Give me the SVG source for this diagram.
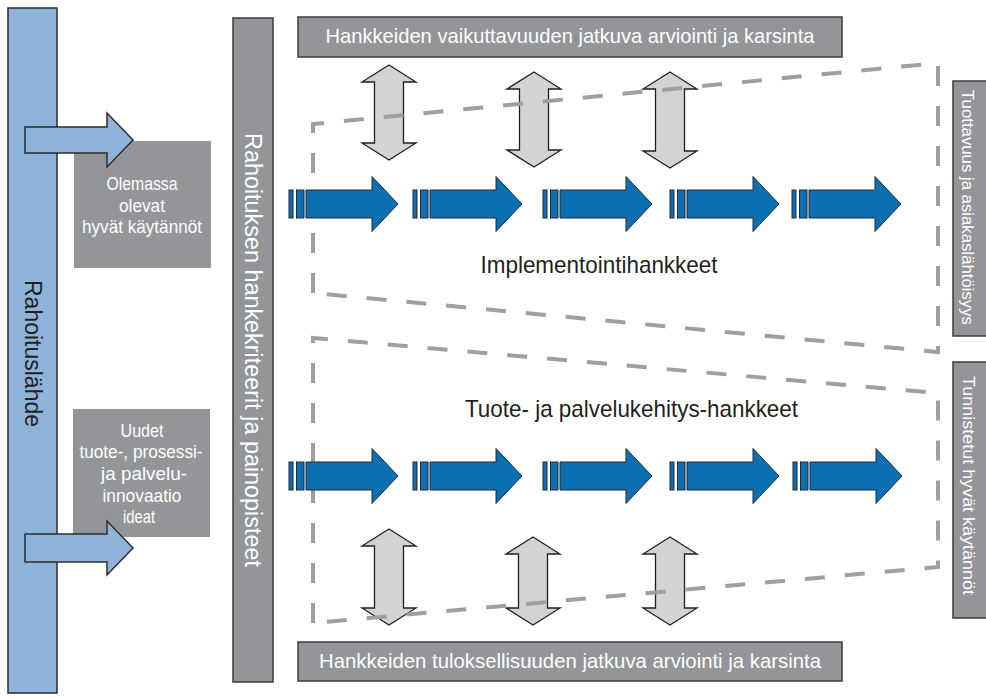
<svg xmlns="http://www.w3.org/2000/svg" width="986" height="697" viewBox="0 0 986 697">
  <style>
    .txt { font-family: "Liberation Sans Narrow", "Liberation Sans", Arial, sans-serif; }
    .wt { fill: #ffffff; }
    .bk { fill: #231f20; }
    .grey { fill: #939598; stroke: #3c3c3c; stroke-width: 1.5; }
    .lblue { fill: #8fb4dc; stroke: #2b2b2b; stroke-width: 1.5; }
    .blue { fill: #0b6fb1; stroke: #1e2a35; stroke-width: 1; }
    .dbl { fill: #d1d3d4; stroke: #231f20; stroke-width: 1.3; }
    .dash { fill: none; stroke: #9d9fa2; stroke-width: 4; stroke-dasharray: 20 20; }
  </style>
  <defs>
    <!-- blue step arrow: two thin bars then a block arrow, centred on y=0 -->
    <g id="step">
      <rect class="blue" x="0" y="-14" width="4" height="28"/>
      <rect class="blue" x="7.5" y="-14" width="7.5" height="28"/>
      <path class="blue" d="M17,-14 H83 V-27.5 L109,0 L83,27.5 V14 H17 Z"/>
    </g>
  </defs>

  <!-- funding source bar -->
  <g id="rahoituslahde">
    <rect class="lblue" x="8" y="8" width="49" height="685"/>
    <text class="txt bk" font-size="23" text-anchor="middle" textLength="147" lengthAdjust="spacingAndGlyphs" transform="translate(25,353.5) rotate(90)">Rahoituslähde</text>
  </g>

  <!-- input boxes -->
  <g id="olemassa">
    <rect fill="#939598" x="74" y="141" width="137" height="127"/>
    <g class="txt wt" font-size="19" text-anchor="middle">
      <text x="142" y="190" textLength="71" lengthAdjust="spacingAndGlyphs">Olemassa</text>
      <text x="142" y="212" textLength="46" lengthAdjust="spacingAndGlyphs">olevat</text>
      <text x="142" y="233" textLength="120" lengthAdjust="spacingAndGlyphs">hyvät käytännöt</text>
    </g>
  </g>
  <g id="uudet">
    <rect fill="#939598" x="73" y="409" width="137" height="128"/>
    <g class="txt wt" font-size="19" text-anchor="middle">
      <text x="142" y="437" textLength="43" lengthAdjust="spacingAndGlyphs">Uudet</text>
      <text x="141" y="458" textLength="123" lengthAdjust="spacingAndGlyphs">tuote-, prosessi-</text>
      <text x="144" y="480" textLength="86" lengthAdjust="spacingAndGlyphs">ja palvelu-</text>
      <text x="142" y="502" textLength="79" lengthAdjust="spacingAndGlyphs">innovaatio</text>
      <text x="139" y="523" textLength="32" lengthAdjust="spacingAndGlyphs">ideat</text>
    </g>
  </g>

  <!-- criteria bar -->
  <g id="kriteerit">
    <rect class="grey" x="233" y="18" width="40" height="664"/>
    <text class="txt wt" font-size="23" text-anchor="middle" textLength="434" lengthAdjust="spacingAndGlyphs" transform="translate(245,350) rotate(90)">Rahoituksen hankekriteerit ja painopisteet</text>
  </g>

  <!-- evaluation boxes -->
  <g id="vaikuttavuus">
    <rect class="grey" x="298" y="17" width="544" height="40"/>
    <text class="txt wt" x="570" y="43" font-size="21" text-anchor="middle" textLength="489" lengthAdjust="spacingAndGlyphs">Hankkeiden vaikuttavuuden jatkuva arviointi ja karsinta</text>
  </g>
  <g id="tuloksellisuus">
    <rect class="grey" x="298" y="642" width="544" height="39"/>
    <text class="txt wt" x="570" y="668" font-size="21" text-anchor="middle" textLength="502" lengthAdjust="spacingAndGlyphs">Hankkeiden tuloksellisuuden jatkuva arviointi ja karsinta</text>
  </g>

  <!-- outcome boxes on the right -->
  <g id="tuottavuus">
    <rect class="grey" x="953" y="81" width="40" height="255"/>
    <text class="txt wt" font-size="17" text-anchor="middle" textLength="235" lengthAdjust="spacingAndGlyphs" transform="translate(962,207.5) rotate(90)">Tuottavuus ja asiakaslähtöisyys</text>
  </g>
  <g id="tunnistetut">
    <rect class="grey" x="953" y="362" width="40" height="256"/>
    <text class="txt wt" font-size="17" text-anchor="middle" textLength="219" lengthAdjust="spacingAndGlyphs" transform="translate(963,485.5) rotate(90)">Tunnistetut hyvät käytännöt</text>
  </g>

  <g id="connectors">
    <!-- inputs from the funding source -->
    <path class="lblue" d="M25,127 H107 V113 L133,140 L107,167 V153 H25 Z"/>
    <path class="lblue" d="M25,534 H107 V521 L133,548 L107,575 V562 H25 Z"/>

    <!-- two-way evaluation arrows, top -->
    <path class="dbl" d="M389,65 L416,82 H403.5 V143 H416 L389,160 L362,143 H374.5 V82 H362 Z"/>
    <path class="dbl" d="M534,72 L561,89 H548.5 V150 H561 L534,167 L507,150 H519.5 V89 H507 Z"/>
    <path class="dbl" d="M670,72 L697,89 H684.5 V151 H697 L670,168 L643,151 H655.5 V89 H643 Z"/>
    <!-- two-way evaluation arrows, bottom -->
    <path class="dbl" d="M389,529 L416,546 H403.5 V608 H416 L389,625 L362,608 H374.5 V546 H362 Z"/>
    <path class="dbl" d="M533,537 L560,554 H547.5 V608 H560 L533,625 L506,608 H518.5 V554 H506 Z"/>
    <path class="dbl" d="M670,537 L697,554 H684.5 V608 H697 L670,625 L643,608 H655.5 V554 H643 Z"/>

    <!-- project-type frames -->
    <path class="dash" d="M313,293 L313,124 L938,63 L938,352 Z"/>
    <path class="dash" d="M313,623 L313,338 L938,393 L938,567 Z"/>

    <!-- implementation project flow -->
    <use href="#step" x="289" y="204"/>
    <use href="#step" x="413" y="204"/>
    <use href="#step" x="543" y="204"/>
    <use href="#step" x="670" y="204"/>
    <use href="#step" x="792" y="204"/>
    <!-- development project flow -->
    <use href="#step" x="289" y="476"/>
    <use href="#step" x="413" y="476"/>
    <use href="#step" x="543" y="476"/>
    <use href="#step" x="670" y="476"/>
    <use href="#step" x="793" y="476"/>
  </g>

  <!-- frame labels -->
  <g id="implementointi">
    <text class="txt bk" x="599" y="273" font-size="24" text-anchor="middle" textLength="237" lengthAdjust="spacingAndGlyphs">Implementointihankkeet</text>
  </g>
  <g id="kehitys">
    <text class="txt bk" x="631.5" y="417" font-size="24" text-anchor="middle" textLength="333" lengthAdjust="spacingAndGlyphs">Tuote- ja palvelukehitys-hankkeet</text>
  </g>
</svg>
